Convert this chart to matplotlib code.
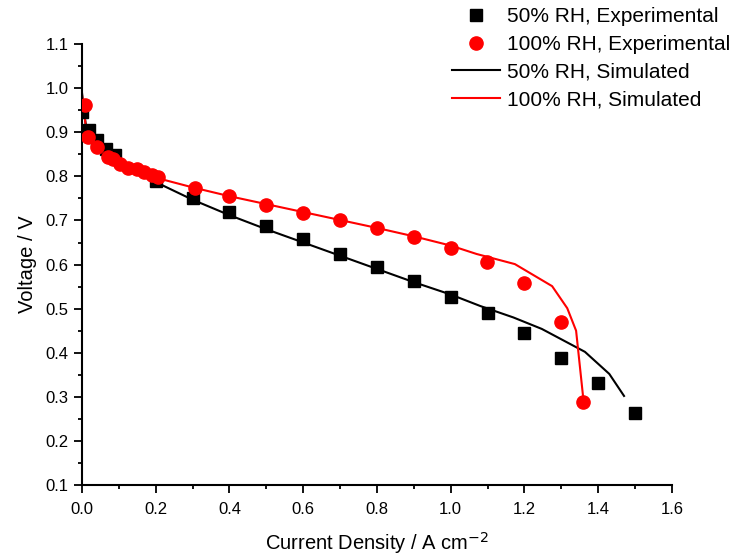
import numpy as np
import matplotlib.pyplot as plt
from matplotlib.ticker import MultipleLocator

plt.rcParams['font.family'] = ['Liberation Sans', 'DejaVu Sans']

# experimental data
x_exp50 = [0.0, 0.02, 0.04, 0.065, 0.089, 0.2, 0.3, 0.4, 0.5, 0.6, 0.7, 0.8, 0.9, 1.0, 1.1, 1.2, 1.3, 1.4, 1.5]
v_exp50 = [0.946, 0.905, 0.882, 0.862, 0.848, 0.79, 0.752, 0.72, 0.688, 0.658, 0.625, 0.595, 0.562, 0.527, 0.489, 0.444, 0.388, 0.331, 0.263]

x_exp100 = [0.008, 0.017, 0.04, 0.07, 0.085, 0.103, 0.125, 0.148, 0.167, 0.19, 0.207,
            0.306, 0.4, 0.5, 0.6, 0.7, 0.8, 0.9, 1.0, 1.098, 1.199, 1.299, 1.359]
v_exp100 = [0.962, 0.889, 0.866, 0.843, 0.839, 0.828, 0.82, 0.816, 0.811, 0.803, 0.798,
            0.773, 0.755, 0.735, 0.718, 0.700, 0.682, 0.662, 0.638, 0.606, 0.558, 0.47, 0.288]

# simulated curves
x_sim50 = [0.0, 0.005, 0.01, 0.02, 0.05, 0.1, 0.15, 0.2, 0.3, 0.4, 0.5, 0.6, 0.7, 0.8, 0.9, 1.0, 1.08, 1.17, 1.247, 1.364, 1.43, 1.47]
v_sim50 = [0.99, 0.95, 0.92, 0.895, 0.865, 0.832, 0.808, 0.787, 0.747, 0.712, 0.680, 0.650, 0.620, 0.590, 0.560, 0.532, 0.506, 0.48, 0.454, 0.402, 0.352, 0.302]

x_sim100 = [0.0, 0.005, 0.01, 0.02, 0.05, 0.1, 0.15, 0.2, 0.3, 0.4, 0.5, 0.6, 0.7, 0.8, 0.9, 1.0, 1.07, 1.174, 1.275, 1.316, 1.34, 1.359]
v_sim100 = [0.985, 0.95, 0.915, 0.89, 0.86, 0.83, 0.812, 0.797, 0.775, 0.755, 0.737, 0.719, 0.701, 0.683, 0.664, 0.643, 0.624, 0.601, 0.551, 0.501, 0.45, 0.30]

fig = plt.figure(figsize=(7.36, 5.58), dpi=100)
ax = fig.add_axes([0.1114, 0.1308, 0.8016, 0.7902])

ax.plot(x_exp50, v_exp50, 's', color='black', markersize=8.5, label='50% RH, Experimental', zorder=3)
ax.plot(x_exp100, v_exp100, 'o', color='#ff0000', markersize=9.5, label='100% RH, Experimental', zorder=4)
ax.plot(x_sim50, v_sim50, '-', color='black', linewidth=1.5, label='50% RH, Simulated', zorder=2)
ax.plot(x_sim100, v_sim100, '-', color='#ff0000', linewidth=1.5, label='100% RH, Simulated', zorder=2)

ax.set_xlim(0, 1.6)
ax.set_ylim(0.1, 1.1)
ax.xaxis.set_major_locator(MultipleLocator(0.2))
ax.xaxis.set_minor_locator(MultipleLocator(0.1))
ax.yaxis.set_major_locator(MultipleLocator(0.1))
ax.yaxis.set_minor_locator(MultipleLocator(0.05))
ax.tick_params(which='both', direction='out', width=1.3, labelsize=12)
ax.tick_params(which='major', length=6)
ax.tick_params(which='minor', length=3)
ax.tick_params(axis='x', pad=6)
ax.spines['top'].set_visible(False)
ax.spines['right'].set_visible(False)
ax.spines['left'].set_linewidth(1.5)
ax.spines['bottom'].set_linewidth(1.5)

ax.set_xlabel('Current Density / A cm$^{-2}$', fontsize=14.5, labelpad=10)
ax.set_ylabel('Voltage / V', fontsize=14.5, labelpad=6)

fig.legend(loc='upper left', bbox_to_anchor=(0.614, 0.987), frameon=False, fontsize=15,
           numpoints=1, handlelength=2.3, handletextpad=0.35, labelspacing=0.42,
           borderpad=0, borderaxespad=0)

fig.savefig('out.png', dpi=100)
